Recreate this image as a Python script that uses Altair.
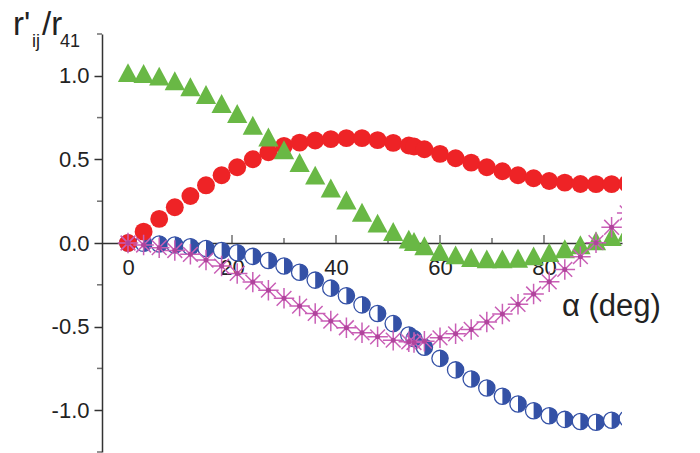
import altair as alt
import pandas as pd

# Rotation angle alpha (deg) shared by all four series
alpha = [0, 3, 6, 9, 12, 15, 18, 21, 24, 27, 30, 33, 36, 39, 42, 45, 48, 51, 54,
         55, 57, 60, 63, 66, 69, 72, 75, 78, 81, 84, 87, 90, 93, 96]

# Normalised coefficients r'_ij / r_41
r_red = [0.0, 0.068, 0.144, 0.214, 0.281, 0.345, 0.405, 0.453, 0.501, 0.543,
         0.581, 0.600, 0.613, 0.621, 0.627, 0.627, 0.615, 0.599, 0.583,
         0.577, 0.561, 0.533, 0.507, 0.481, 0.453, 0.429, 0.405, 0.387, 0.371,
         0.361, 0.353, 0.352, 0.352, 0.355]
r_green = [1.0, 0.995, 0.979, 0.951, 0.915, 0.869, 0.815, 0.755, 0.685, 0.615,
           0.539, 0.462, 0.387, 0.310, 0.238, 0.165, 0.100, 0.050, 0.004,
           -0.010, -0.036, -0.070, -0.090, -0.106, -0.114, -0.114, -0.110,
           -0.096, -0.076, -0.054, -0.030, -0.006, 0.020, 0.045]
r_blue = [0.0, -0.002, -0.006, -0.012, -0.022, -0.033, -0.045, -0.058, -0.080,
          -0.105, -0.138, -0.175, -0.222, -0.270, -0.315, -0.370, -0.422,
          -0.482, -0.550, -0.572, -0.623, -0.690, -0.759, -0.813, -0.867,
          -0.917, -0.963, -1.003, -1.033, -1.055, -1.068, -1.072, -1.060, -1.050]
r_magenta = [0.0, -0.012, -0.028, -0.045, -0.068, -0.102, -0.138, -0.182,
             -0.234, -0.282, -0.331, -0.377, -0.421, -0.467, -0.507, -0.537,
             -0.561, -0.581, -0.591, -0.595, -0.587, -0.567, -0.543, -0.517,
             -0.473, -0.425, -0.367, -0.305, -0.232, -0.158, -0.082, 0.002,
             0.094, 0.180]

# Axis ticks
x_major = [0, 20, 40, 60, 80]
x_minor = [10, 30, 50, 70, 90]
y_major = [-1.0, -0.5, 0.0, 0.5, 1.0]
y_minor = [-1.25, -0.75, -0.25, 0.25, 0.75, 1.25]

# Labels
y_title_parts = ["r'", "ij", "/r", "41"]
x_title = "\u03b1 (deg)"

W, H = 520, 418
FONT = "Liberation Sans"
AXIS_COLOR = "#333333"

xs = alt.Scale(domain=[-5, 95], nice=False, zero=False)
ys = alt.Scale(domain=[-1.25, 1.25], nice=False, zero=False)

x_axis = alt.Axis(values=x_major, ticks=False, tickSize=0, offset=-H / 2,
                  labelPadding=14, labelFont=FONT, labelFontSize=22,
                  labelColor="#222222", domainColor=AXIS_COLOR, domainWidth=1.5,
                  grid=False, title=None)
y_axis = alt.Axis(values=y_major, tickSize=8, tickWidth=1.5, tickColor=AXIS_COLOR,
                  labelPadding=5, labelFont=FONT, labelFontSize=22,
                  labelColor="#222222", domainColor=AXIS_COLOR, domainWidth=1.5,
                  labelExpr="replace(format(datum.value, '.1f'), '\u2212', '-')",
                  grid=False, title=None)

X = alt.X("alpha:Q", scale=xs, axis=x_axis)
Y = alt.Y("r:Q", scale=ys, axis=y_axis)


def frame(vals):
    return pd.DataFrame({"alpha": alpha, "r": vals})


TRIANGLE = "M0,-1.25L1,0.62L-1,0.62Z"
RIGHT_HALF = "M0,-1A1,1,0,0,1,0,1Z"
ASTERISK = ("M-1,0L1,0M0,-1L0,1M-0.72,-0.72L0.72,0.72M-0.72,0.72L0.72,-0.72")

blue_open = alt.Chart(frame(r_blue)).mark_point(
    shape="circle", filled=True, fill="white", stroke="#3451a6",
    strokeWidth=1.3, size=265, opacity=1, clip=True
).encode(x=X, y=Y)
blue_half = alt.Chart(frame(r_blue)).mark_point(
    shape=RIGHT_HALF, filled=True, fill="#3451a6", strokeWidth=0,
    size=265, opacity=1, clip=True
).encode(x=X, y=Y)

red = alt.Chart(frame(r_red)).mark_point(
    shape="circle", filled=True, color="#ee2326", size=320, opacity=1, clip=True
).encode(x=X, y=Y)

green = alt.Chart(frame(r_green)).mark_point(
    shape=TRIANGLE, filled=True, color="#69b845", size=410, opacity=1, clip=True
).encode(x=X, y=Y)

magenta_star = alt.Chart(frame(r_magenta)).mark_point(
    shape=ASTERISK, filled=False, stroke="#c95fb6", strokeWidth=1.5,
    size=420, opacity=1, clip=True
).encode(x=X, y=Y)
magenta_dot = alt.Chart(frame(r_magenta)).mark_point(
    shape="circle", filled=True, color="#b0449c", size=25, opacity=1, clip=True
).encode(x=X, y=Y)

# Inward ticks on the x axis (drawn at r = 0)
def x_ticks(vals, length):
    return alt.Chart(pd.DataFrame({"alpha": vals})).mark_tick(
        orient="vertical", size=length, thickness=1.5, color=AXIS_COLOR,
        yOffset=-length / 2
    ).encode(x=X, y=alt.Y(datum=0, scale=ys, axis=y_axis))

x_major_ticks = x_ticks(x_major, 8)
x_minor_ticks = x_ticks(x_minor, 5)

# Minor ticks on the y axis
y_minor_ticks = alt.Chart(pd.DataFrame({"r": y_minor})).mark_tick(
    orient="horizontal", size=5, thickness=1.5, color=AXIS_COLOR
).encode(y=Y, x=alt.value(-2.5))


def label(text, x, y, size, align="left"):
    return alt.Chart(pd.DataFrame({"t": [text]})).mark_text(
        align=align, baseline="alphabetic", font=FONT, fontSize=size,
        color="#222222"
    ).encode(text="t:N", x=alt.value(x), y=alt.value(y))

title_layers = [
    label(y_title_parts[0], 13 - 102, 35 - 34, 33),
    label(y_title_parts[1], 32 - 102, 47 - 34, 18),
    label(y_title_parts[2], 42 - 102, 35 - 34, 33),
    label(y_title_parts[3], 60 - 102, 47 - 34, 18),
    label(x_title, 562 - 102, 316 - 34, 31),
]

chart = alt.layer(
    x_major_ticks, x_minor_ticks, y_minor_ticks,
    blue_open, blue_half, red, green, magenta_star, magenta_dot,
    *title_layers
).properties(
    width=W, height=H,
    autosize=alt.AutoSizeParams(type="none"),
    padding={"left": 102, "top": 34, "right": 78, "bottom": 1},
).configure_view(stroke=None)

chart.save("out.html", embed_options={"renderer": "svg", "actions": False})
